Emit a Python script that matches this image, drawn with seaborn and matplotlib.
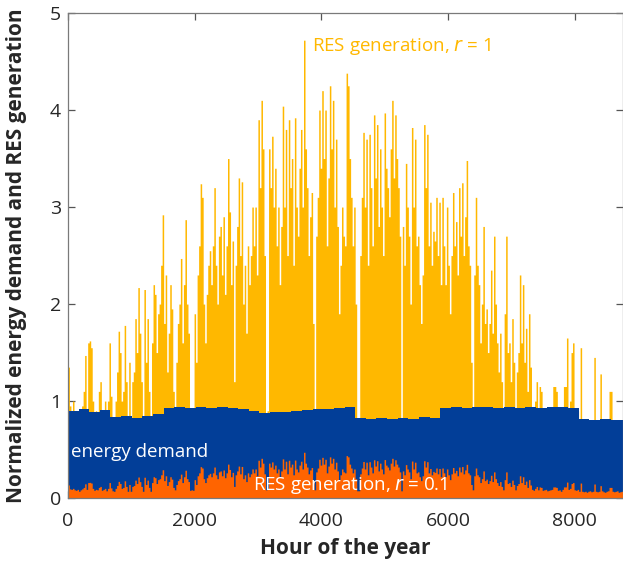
import numpy as np
import pandas as pd
import matplotlib
matplotlib.use("Agg")
import matplotlib.pyplot as plt
import seaborn as sns

# ---- data ----
# Daily peak of normalized RES generation for r = 1 (one value per day)
res_r1_daily = [
    1.35, 0.95, 0.9, 1.0, 0.85, 0.8, 0.9, 0.7, 0.85, 0.95,
    1.1, 1.47, 0.9, 1.6, 1.62, 1.55, 1.0, 0.8, 0.9, 0.85,
    1.1, 1.2, 0.8, 0.9, 1.0, 0.75, 1.0, 1.6, 1.05, 0.75,
    0.7, 1.0, 1.3, 1.72, 1.5, 1.0, 1.1, 1.78, 1.2, 0.7,
    1.4, 0.7, 1.2, 1.3, 1.85, 1.5, 2.17, 1.7, 1.2, 0.7,
    2.15, 1.4, 1.85, 1.1, 0.7, 1.6, 2.2, 2.1, 1.5, 1.9,
    2.0, 2.4, 2.92, 1.8, 2.3, 1.3, 1.7, 2.2, 1.95, 1.1,
    0.85, 1.4, 1.8, 2.0, 2.47, 1.6, 2.2, 2.87, 2.0, 1.7,
    0.8, 0.85, 0.8, 1.9, 1.4, 2.3, 2.6, 3.24, 3.1, 2.0,
    1.6, 2.1, 2.4, 2.55, 2.2, 2.6, 3.2, 2.4, 2.0, 2.7,
    2.8, 2.3, 2.9, 2.1, 2.6, 3.5, 2.95, 2.2, 2.65, 1.2,
    2.4, 2.8, 3.3, 2.5, 3.26, 2.0, 2.4, 1.7, 2.6, 2.2,
    2.5, 3.0, 2.6, 3.0, 2.3, 3.9, 3.2, 4.1, 3.6, 2.5,
    0.85, 0.9, 3.6, 3.2, 3.73, 3.0, 3.4, 2.6, 3.0, 2.2,
    2.8, 4.04, 3.0, 3.8, 2.5, 3.9, 3.2, 3.5, 2.4, 3.92,
    3.0, 2.7, 3.4, 3.8, 3.0, 4.72, 3.6, 3.2, 2.5, 2.9,
    3.15, 1.8, 0.85, 2.7, 3.1, 4.0, 3.4, 4.2, 3.5, 4.0,
    2.6, 3.3, 4.25, 3.6, 4.1, 3.0, 3.7, 2.8, 1.9, 2.4,
    3.0, 2.7, 2.6, 4.38, 4.25, 3.5, 3.1, 2.6, 3.0, 2.0,
    0.75, 0.75, 2.5, 3.1, 3.77, 3.0, 3.7, 2.4, 3.75, 3.2,
    2.6, 3.95, 3.3, 3.85, 2.8, 3.6, 3.0, 2.5, 3.97, 3.4,
    3.2, 2.9, 3.6, 4.1, 3.3, 3.95, 3.5, 3.2, 2.7, 0.75,
    2.8, 2.4, 3.45, 3.0, 2.7, 2.0, 3.82, 3.0, 3.7, 2.6,
    2.7, 2.2, 1.8, 2.3, 3.85, 3.2, 3.75, 2.6, 3.05, 2.4,
    2.75, 2.65, 3.1, 2.5, 3.05, 2.2, 3.1, 2.6, 2.2, 3.0,
    2.4, 1.9, 2.5, 3.15, 2.6, 2.85, 2.3, 3.2, 2.7, 3.25,
    2.5, 2.9, 3.48, 2.6, 2.4, 1.4, 0.85, 2.3, 3.1, 2.4,
    2.2, 1.6, 2.0, 2.8, 1.8, 1.95, 1.5, 1.8, 2.35, 1.7,
    2.7, 2.0, 1.6, 1.3, 1.7, 1.2, 0.85, 1.9, 2.7, 1.5,
    1.6, 1.2, 1.85, 1.4, 0.85, 1.3, 1.5, 2.3, 1.6, 2.2,
    1.4, 1.75, 1.1, 1.9, 1.35, 0.9, 0.8, 1.0, 1.2, 0.85,
    1.15, 1.1, 0.8, 0.85, 0.9, 0.75, 0.8, 0.85, 0.9, 1.15,
    1.15, 1.1, 0.8, 0.85, 0.7, 0.9, 1.15, 1.15, 1.65, 0.9,
    1.0, 1.5, 1.6, 0.85, 0.8, 0.9, 0.7, 1.55, 0.7, 0.65,
    0.7, 0.6, 0.7, 0.75, 0.65, 0.7, 1.45, 0.7, 0.65, 0.7,
    1.28, 0.75, 0.65, 0.6, 0.7, 0.75, 1.1, 1.1, 0.7, 0.65,
    0.7, 0.75, 0.6, 0.65, 0.7,
]

# Weekly peak of normalized energy demand (53 blocks, last one partial)
demand_weekly = [
    0.90, 0.92, 0.89, 0.91, 0.84, 0.85, 0.83, 0.85, 0.87, 0.93,
    0.94, 0.93, 0.94, 0.93, 0.94, 0.93, 0.92, 0.90, 0.88, 0.89,
    0.89, 0.90, 0.91, 0.92, 0.92, 0.93, 0.94, 0.83, 0.82, 0.83,
    0.82, 0.83, 0.82, 0.84, 0.83, 0.93, 0.94, 0.93, 0.94, 0.94,
    0.93, 0.94, 0.93, 0.94, 0.93, 0.94, 0.94, 0.93, 0.81, 0.80,
    0.81, 0.80, 0.80,
]

r_small = 0.1
x_ticks = [0, 2000, 4000, 6000, 8000]
y_ticks = [0, 1, 2, 3, 4, 5]

# ---- derived tables ----
hours_in_year = 8760
n_days = len(res_r1_daily)
n_weeks = len(demand_weekly)
daily = pd.DataFrame({
    "hour": np.arange(n_days) * 24 + 12,
    "res_r1": res_r1_daily,
})
daily["res_r01"] = r_small * daily["res_r1"]
weekly = pd.DataFrame({
    "hour": np.arange(n_weeks) * 168 + 84,
    "demand": demand_weekly,
})

# ---- style ----
sns.set_theme(style="white")
plt.rcParams["font.family"] = ["Open Sans", "DejaVu Sans"]

C_YEL = "#FFB800"
C_BLUE = "#023E98"
C_ORA = "#FF6400"

fig = plt.figure(figsize=(6.23, 5.66), dpi=100)
ax = fig.add_axes([0.109, 0.12, 0.8905, 0.857])

sns.histplot(data=daily, x="hour", weights="res_r1", binwidth=24,
             binrange=(0, n_days * 24), element="step", fill=True,
             color=C_YEL, alpha=1, linewidth=0, ax=ax)
sns.histplot(data=weekly, x="hour", weights="demand", binwidth=168,
             binrange=(0, n_weeks * 168), element="step", fill=True,
             color=C_BLUE, alpha=1, linewidth=0, ax=ax)
sns.histplot(data=daily, x="hour", weights="res_r01", binwidth=24,
             binrange=(0, n_days * 24), element="step", fill=True,
             color=C_ORA, alpha=1, linewidth=0, ax=ax)

ax.set_xlim(0, hours_in_year)
ax.set_ylim(0, 5)
ax.set_xticks(x_ticks)
ax.set_yticks(y_ticks)
ax.set_xticklabels([str(t) for t in x_ticks])
ax.set_yticklabels([str(t) for t in y_ticks])

for s in ax.spines.values():
    s.set_visible(True)
    s.set_color("#7a7a7a")
    s.set_linewidth(0.9)
ax.tick_params(axis="both", which="both", direction="in", length=5, width=0.9,
               color="#555555", labelsize=14, labelcolor="#262626",
               top=True, right=True, bottom=True, left=True, pad=5)
ax.tick_params(axis="x", pad=10)

ax.set_xlabel("Hour of the year", fontsize=15, fontweight="bold", color="#262626", labelpad=6)
ax.set_ylabel("Normalized energy demand and RES generation", fontsize=15,
              fontweight="bold", color="#262626", labelpad=16)

ax.text(3860, 4.65, "RES generation, $\\it{r}$ = 1", color=C_YEL, fontsize=13.5,
        va="center", ha="left")
ax.text(55, 0.47, "energy demand", color="white", fontsize=13.5, va="center", ha="left")
ax.text(2930, 0.13, "RES generation, $\\it{r}$ = 0.1", color="white", fontsize=13.5,
        va="center", ha="left")

fig.savefig("out.png", dpi=100)
